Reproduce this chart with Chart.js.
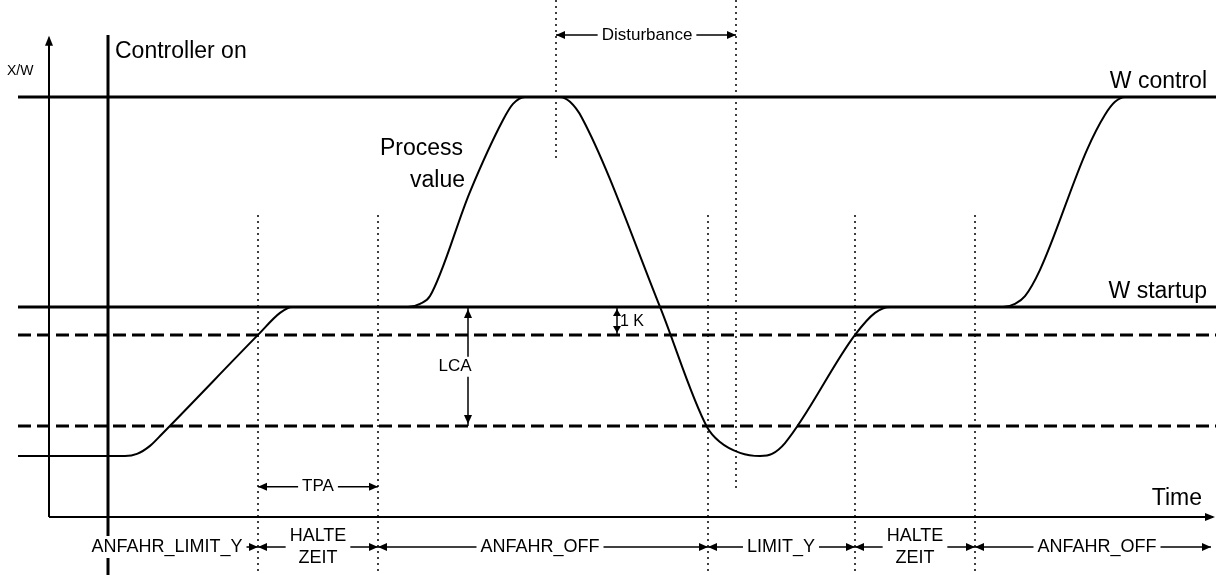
<!DOCTYPE html>
<html>
<head>
<meta charset="utf-8">
<script src="https://cdn.jsdelivr.net/npm/chart.js@4/dist/chart.umd.min.js"></script>
<style>
  html, body { margin: 0; padding: 0; background: #fff; }
  #wrap { width: 1216px; height: 575px; position: relative; }
</style>
</head>
<body>
<div id="wrap"><canvas id="diagram"></canvas></div>
<script>
// time axis (t) and value axis (v) of the diagram
const timeStart = -3.1;
const timeEnd = 116.7;
const axisTimeEnd = 116.4;
const axisValueTop = 136.9;

// setpoint levels
const wControl = 120;
const wStartup = 60;
const band1K = 52;      // W startup - 1K
const bandLCA = 26;     // W startup - LCA
const controllerOnTime = 5.9;

// process value curve
const processTime = [-3.1, 7.6, 8.8, 10.1, 11.3, 20.9, 23.1, 24.3, 35.9, 37.1, 38.1, 42.1, 45.4, 46.4, 47.6, 51.1, 52.1, 53.3, 61.1, 65.8, 67.1, 69.1, 71.1, 72.3, 73.6, 80.6, 82.6, 84.1, 95.4, 96.6, 97.6, 99.1, 103.8, 105.6, 106.6, 107.6, 116.7];
const processValue = [17.4, 17.4, 18.0, 20.3, 23.7, 52.0, 58.3, 60, 60, 60.9, 63.1, 92.9, 113.4, 118, 120, 120, 118.6, 114, 60, 25.7, 21.4, 18.3, 17.4, 18, 21.1, 52, 58.3, 60, 60, 60.9, 63.1, 70.6, 104.9, 114.9, 118.6, 120, 120];

// phase boundaries (dotted) and phase labels
const phaseBounds = [20.9, 32.9, 65.9, 80.6, 92.6];
const phaseTop = 86.3;
const phaseLabels = ['ANFAHR_LIMIT_Y', 'HALTE\nZEIT', 'ANFAHR_OFF', 'LIMIT_Y', 'HALTE\nZEIT', 'ANFAHR_OFF'];
const phaseStarts = [controllerOnTime, 20.9, 32.9, 65.9, 80.6, 92.6];
const phaseEnds = [20.9, 32.9, 65.9, 80.6, 92.6, 116.2];
const phaseTextAt = [11.8, 26.9, 49.1, 73.2, 86.6, 104.8];
const phaseRowValue = -8.6;

// disturbance window
const disturbanceStart = 50.7;
const disturbanceEnd = 68.7;
const disturbanceBottoms = [102, 7.7];

const xMin = -4.9, xMax = 116.7, yMin = -16.6, yMax = 147.7;
const FONT = '"Liberation Sans", Arial, sans-serif';

function seg(t1, v1, t2, v2) {
  return [{ x: t1, y: v1 }, { x: t2, y: v2 }];
}

const datasets = [];
function addLine(data, width, dash) {
  datasets.push({
    data: data,
    borderColor: '#000',
    borderWidth: width,
    borderDash: dash || [],
    pointRadius: 0,
    fill: false,
    tension: 0
  });
}

// axes
addLine(seg(0, 0, 0, axisValueTop), 2);
addLine(seg(0, 0, axisTimeEnd, 0), 2);
// controller on
addLine(seg(controllerOnTime, yMin, controllerOnTime, 137.7), 3);
// levels
addLine(seg(timeStart, wControl, timeEnd, wControl), 3);
addLine(seg(timeStart, wStartup, timeEnd, wStartup), 3);
addLine(seg(timeStart, band1K, timeEnd, band1K), 3, [13, 6]);
addLine(seg(timeStart, bandLCA, timeEnd, bandLCA), 3, [13, 6]);
// dotted phase boundaries
phaseBounds.forEach((t) => addLine(seg(t, phaseTop, t, yMin), 1.5, [2, 4]));
addLine(seg(disturbanceStart, yMax, disturbanceStart, disturbanceBottoms[0]), 1.5, [2, 4]);
addLine(seg(disturbanceEnd, yMax, disturbanceEnd, disturbanceBottoms[1]), 1.5, [2, 4]);
// process value
datasets.push({
  data: processTime.map((t, i) => ({ x: t, y: processValue[i] })),
  borderColor: '#000',
  borderWidth: 2,
  pointRadius: 0,
  fill: false,
  cubicInterpolationMode: 'monotone'
});

// arrows and texts
function head(ctx, x, y, dir, len, half) {
  len = len || 9; half = half || 4;
  ctx.beginPath();
  ctx.moveTo(x, y);
  if (dir === 'r') { ctx.lineTo(x - len, y - half); ctx.lineTo(x - len, y + half); }
  if (dir === 'l') { ctx.lineTo(x + len, y - half); ctx.lineTo(x + len, y + half); }
  if (dir === 'u') { ctx.lineTo(x - half, y + len); ctx.lineTo(x + half, y + len); }
  if (dir === 'd') { ctx.lineTo(x - half, y - len); ctx.lineTo(x + half, y - len); }
  ctx.closePath();
  ctx.fill();
}

function boxedText(ctx, lines, cx, cy, size, lineH) {
  ctx.font = size + 'px ' + FONT;
  const w = Math.max(...lines.map((l) => ctx.measureText(l).width));
  const h = lineH * lines.length;
  ctx.fillStyle = '#fff';
  ctx.fillRect(cx - w / 2 - 4, cy - h / 2, w + 8, h);
  ctx.fillStyle = '#000';
  ctx.textAlign = 'center';
  ctx.textBaseline = 'middle';
  lines.forEach((l, i) => ctx.fillText(l, cx, cy - h / 2 + lineH * (i + 0.5)));
}

const labelPlugin = {
  id: 'labels',
  afterDatasetsDraw(chart) {
    const ctx = chart.ctx;
    const px = (t) => chart.scales.x.getPixelForValue(t);
    const py = (v) => chart.scales.y.getPixelForValue(v);
    ctx.save();
    ctx.fillStyle = '#000';
    ctx.strokeStyle = '#000';

    // axis arrowheads
    head(ctx, px(0), py(axisValueTop) - 2, 'u', 10, 4);
    head(ctx, px(axisTimeEnd) + 2, py(0), 'r', 10, 4);

    // horizontal dimension arrows
    function dimH(t1, t2, v, lines, tText, size, lineH, leftHead) {
      const y = py(v);
      ctx.lineWidth = 1.5;
      ctx.beginPath();
      ctx.moveTo(px(t1), y);
      ctx.lineTo(px(t2), y);
      ctx.stroke();
      if (leftHead) head(ctx, px(t1), y, 'l');
      head(ctx, px(t2), y, 'r');
      boxedText(ctx, lines, px(tText), y, size, lineH);
    }

    phaseLabels.forEach((lab, i) => {
      dimH(phaseStarts[i], phaseEnds[i], phaseRowValue, lab.split('\n'), phaseTextAt[i], 18, 22, i > 0);
    });
    dimH(20.9, 32.9, 8.6, ['TPA'], 26.9, 17, 18, true);
    dimH(disturbanceStart, disturbanceEnd, 137.7, ['Disturbance'], 59.8, 17, 18, true);

    // LCA vertical arrow
    const xl = px(41.9);
    ctx.lineWidth = 1.5;
    ctx.beginPath();
    ctx.moveTo(xl, py(wStartup));
    ctx.lineTo(xl, py(bandLCA));
    ctx.stroke();
    head(ctx, xl, py(wStartup) + 2, 'u');
    head(ctx, xl, py(bandLCA) - 2, 'd');
    boxedText(ctx, ['LCA'], px(40.6), py(42.9), 17, 20);

    // 1K vertical arrow
    const xk = px(56.8);
    ctx.beginPath();
    ctx.moveTo(xk, py(wStartup));
    ctx.lineTo(xk, py(band1K));
    ctx.stroke();
    head(ctx, xk, py(wStartup) + 2, 'u', 7, 4);
    head(ctx, xk, py(band1K) - 2, 'd', 7, 4);
    ctx.font = '16px ' + FONT;
    ctx.textAlign = 'left';
    ctx.textBaseline = 'middle';
    ctx.fillText('1 K', xk + 3, py(55.7));

    // free texts
    ctx.textBaseline = 'alphabetic';
    ctx.font = '23px ' + FONT;
    ctx.textAlign = 'left';
    ctx.fillText('Controller on', px(controllerOnTime) + 7, 58);
    ctx.fillText('Process', px(33.1), 155);
    ctx.fillText('value', px(36.1), 187);
    ctx.textAlign = 'right';
    ctx.fillText('W control', px(115.8), py(wControl) - 9);
    ctx.fillText('W startup', px(115.8), py(wStartup) - 9);
    ctx.fillText('Time', px(115.3), py(0) - 12);
    ctx.font = '14px ' + FONT;
    ctx.textAlign = 'left';
    ctx.fillText('X/W', 7, 75);
    ctx.restore();
  }
};

new Chart(document.getElementById('diagram'), {
  type: 'line',
  data: { datasets: datasets },
  options: {
    responsive: true,
    maintainAspectRatio: false,
    animation: false,
    layout: { padding: 0 },
    plugins: { legend: { display: false }, tooltip: { enabled: false } },
    scales: {
      x: { type: 'linear', display: false, min: xMin, max: xMax },
      y: { type: 'linear', display: false, min: yMin, max: yMax }
    }
  },
  plugins: [labelPlugin]
});
</script>
</body>
</html>
